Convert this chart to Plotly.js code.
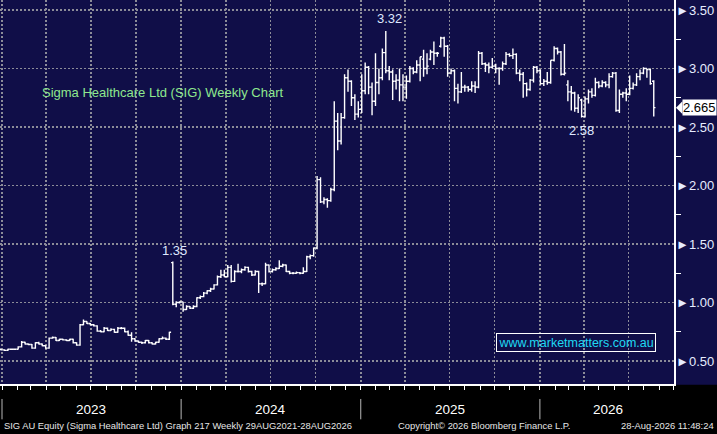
<!DOCTYPE html>
<html><head><meta charset="utf-8">
<script src="https://cdn.plot.ly/plotly-3.0.1.min.js"></script>
<style>html,body{margin:0;padding:0;background:#100e48;}#chart{width:717px;height:434px;}</style>
</head><body><div id="chart"></div>
<script>
// Weekly bars, first week ending 2022-12-30
const firstWeek = '2022-12-30';
const open = [
0.60,0.595,0.59,0.60,0.60,0.60,0.62,0.66,0.645,0.64, 0.61,0.655,0.645,0.63,0.61,0.695,0.70,0.675,0.685,0.68,
0.675,0.685,0.655,0.635,0.81,0.837,0.82,0.81,0.80,0.755, 0.75,0.78,0.76,0.77,0.745,0.78,0.78,0.75,0.72,0.69,
0.67,0.66,0.655,0.675,0.655,0.645,0.66,0.69,0.695,0.685,
1.34,0.985,1.00,1.005,0.94,0.965,0.95,0.965,1.04,1.05,
1.08,1.10,1.115,1.15,1.22,1.235,1.22,1.30,1.18,1.265,
1.265,1.28,1.30,1.265,1.235,1.265,1.16,1.16,1.32,1.265,
1.28,1.29,1.31,1.32,1.265,1.25,1.25,1.255,1.25,1.265,
1.39,1.40,1.465,2.05,1.86,1.88,1.87,1.965,2.55,2.38,
2.58,2.92,2.89,2.75,2.61,2.65,2.81,3.01,2.84,2.72,
2.88,2.92,3.135,2.98,2.97,2.89,2.90,2.86,2.84,2.89,
3.00,2.97,3.03,3.08,3.00,3.08,3.14,3.13,3.19,3.26,
3.19,2.96,2.98,2.83,2.80,2.84,2.84,2.82,2.85,2.84,
3.13,3.04,3.03,3.01,3.02,3.00,3.00,3.04,3.12,3.11,
3.12,2.96,2.95,2.87,2.82,2.90,3.01,2.98,2.87,2.89,
2.88,3.07,3.17,3.14,2.95,2.86,2.80,2.79,2.66,2.73,
2.59,2.74,2.80,2.77,2.88,2.85,2.88,2.86,2.93,2.96,
2.64,2.78,2.79,2.78,2.83,2.86,2.93,2.96,3.00,2.99,2.89];
const high = [
0.605,0.60,0.605,0.605,0.605,0.625,0.67,0.665,0.65,0.645, 0.66,0.665,0.65,0.635,0.70,0.71,0.705,0.69,0.69,0.685,
0.69,0.69,0.66,0.815,0.855,0.84,0.825,0.815,0.805,0.765, 0.79,0.785,0.78,0.775,0.79,0.79,0.785,0.76,0.745,0.695,
0.675,0.665,0.68,0.68,0.66,0.665,0.695,0.71,0.70,0.75,
1.35,1.01,1.01,1.005,0.975,0.97,0.975,1.045,1.06,1.09,
1.105,1.125,1.155,1.23,1.28,1.28,1.32,1.32,1.275,1.33,
1.29,1.31,1.305,1.27,1.275,1.27,1.17,1.34,1.325,1.29,
1.30,1.36,1.33,1.325,1.27,1.26,1.265,1.26,1.30,1.40,
1.41,1.47,2.08,2.07,1.90,1.89,1.98,2.72,2.62,2.62,
2.95,2.99,2.90,2.78,2.72,2.95,3.05,3.02,2.88,3.13,
3.00,3.17,3.32,3.02,2.99,2.95,3.00,2.95,2.94,3.02,
3.01,3.07,3.10,3.16,3.13,3.16,3.23,3.14,3.27,3.27,
3.20,3.00,2.99,2.87,2.97,2.86,2.85,2.89,2.89,3.15,
3.14,3.05,3.05,3.09,3.04,3.01,3.06,3.14,3.13,3.17,
3.13,2.99,2.97,2.88,2.91,3.02,3.02,2.99,2.91,2.97,
3.07,3.19,3.18,3.15,3.21,2.90,2.85,2.80,2.78,2.74,
2.76,2.82,2.83,2.92,2.89,2.90,2.89,2.96,2.97,2.97,
2.82,2.80,2.83,2.94,2.88,2.96,2.99,3.01,3.00,3.00,2.90];
const low = [
0.59,0.585,0.585,0.595,0.595,0.598,0.615,0.64,0.635,0.605, 0.605,0.64,0.625,0.605,0.605,0.69,0.67,0.67,0.675,0.67,
0.67,0.65,0.63,0.63,0.805,0.815,0.805,0.795,0.75,0.745, 0.745,0.755,0.755,0.74,0.74,0.77,0.745,0.715,0.665,0.665,
0.655,0.645,0.65,0.65,0.64,0.64,0.655,0.685,0.68,0.68,
0.975,0.96,0.99,0.92,0.935,0.945,0.945,0.96,1.03,1.045,
1.07,1.09,1.11,1.145,1.21,1.215,1.215,1.17,1.175,1.255,
1.25,1.27,1.255,1.225,1.23,1.08,1.14,1.155,1.255,1.255,
1.27,1.285,1.30,1.26,1.24,1.24,1.245,1.24,1.245,1.26,
1.37,1.39,1.455,1.85,1.84,1.81,1.86,1.95,2.30,2.35,
2.57,2.80,2.68,2.56,2.58,2.62,2.78,2.78,2.60,2.68,
2.78,2.90,2.96,2.90,2.73,2.82,2.72,2.72,2.74,2.88,
2.95,2.96,2.89,2.93,2.95,3.07,3.03,3.10,3.18,3.10,
2.93,2.95,2.72,2.70,2.79,2.80,2.80,2.80,2.79,2.83,
3.03,2.97,2.96,3.00,2.96,2.86,2.98,3.03,3.10,3.08,
2.95,2.89,2.75,2.76,2.81,2.88,2.96,2.86,2.85,2.86,
2.87,3.06,3.12,2.94,2.94,2.72,2.64,2.63,2.62,2.58,
2.58,2.70,2.75,2.76,2.83,2.84,2.84,2.83,2.92,2.63,
2.62,2.75,2.72,2.77,2.82,2.85,2.90,2.95,2.92,2.86,2.59];
const close = [
0.595,0.59,0.60,0.60,0.60,0.62,0.66,0.645,0.64,0.61, 0.655,0.645,0.63,0.61,0.695,0.70,0.675,0.685,0.68,0.675,
0.685,0.655,0.635,0.81,0.837,0.82,0.81,0.80,0.755,0.75, 0.78,0.76,0.77,0.745,0.78,0.78,0.75,0.72,0.69,0.67,
0.66,0.655,0.675,0.655,0.645,0.66,0.69,0.695,0.685,0.745,
0.985,1.00,1.005,0.94,0.965,0.95,0.965,1.04,1.05,1.08,
1.10,1.115,1.15,1.22,1.235,1.22,1.30,1.18,1.265,1.265,
1.28,1.30,1.265,1.235,1.265,1.16,1.16,1.32,1.265,1.28,
1.29,1.31,1.32,1.265,1.25,1.25,1.255,1.25,1.265,1.39,
1.40,1.465,2.05,1.86,1.88,1.87,1.965,2.55,2.38,2.58,
2.92,2.89,2.75,2.61,2.65,2.81,3.01,2.84,2.72,2.88,
2.92,3.135,2.98,2.97,2.89,2.90,2.86,2.84,2.89,3.00,
2.97,3.03,3.10,3.00,3.02,3.14,3.13,3.13,3.26,3.19,
2.96,2.98,2.83,2.80,2.84,2.84,2.82,2.85,2.84,3.13,
3.04,3.03,3.01,3.02,3.00,3.00,3.04,3.12,3.11,3.12,
2.96,2.95,2.87,2.82,2.90,3.01,2.98,2.87,2.89,2.88,
3.07,3.17,3.14,2.95,2.96,2.80,2.79,2.66,2.75,2.59,
2.74,2.80,2.77,2.88,2.85,2.88,2.86,2.93,2.96,2.64,
2.78,2.79,2.78,2.83,2.86,2.93,2.96,3.00,2.99,2.87,2.665];
const yearLabels = ['2023','2024','2025','2026'];
const yearCentres = ['2023-07-02','2024-07-02','2025-07-02','2026-05-20'];
const yearStarts = ['2023-01-01','2024-01-01','2025-01-01','2026-01-01'];
const chartTitle = 'Sigma Healthcare Ltd (SIG) Weekly Chart';
const footerLeft = 'SIG AU Equity (Sigma Healthcare Ltd) Graph 217 Weekly 29AUG2021-28AUG2026';
const footerMid = 'Copyright\u00a9 2026 Bloomberg Finance L.P.';
const footerRight = '28-Aug-2026 11:48:24';
const watermark = 'www.marketmatters.com.au';

// weekly dates
const dates = [];
const t0 = new Date(firstWeek + 'T00:00:00Z').getTime();
for (let i = 0; i < close.length; i++) {
  dates.push(new Date(t0 + i * 7 * 86400000).toISOString().slice(0, 10));
}
const n = close.length;
const last = close[n - 1];
// label positions
let iMax = 0; for (let i = 0; i < n; i++) if (high[i] > high[iMax]) iMax = i;
let iMin = 130; for (let i = 130; i < n; i++) if (low[i] < low[iMin]) iMin = i;
let iJump = 0; for (let i = 0; i < 60; i++) if (high[i] > high[iJump]) iJump = i;

const NAVY = '#100e48';
const GRID = '#8c8c98';
const sans = 'Liberation Sans, Arial, sans-serif';
const labelFont = {family: sans, size: 13, color: '#dfe8ff'};

const trace = {
  type: 'ohlc', x: dates, open: open, high: high, low: low, close: close,
  increasing: {line: {color: '#ffffff', width: 1.4}},
  decreasing: {line: {color: '#ffffff', width: 1.4}},
  tickwidth: 0.5, hoverinfo: 'skip', showlegend: false
};

const annotations = [
  {xref: 'paper', yref: 'paper', x: 0.0593, y: 0.758, xanchor: 'left', yanchor: 'middle',
   text: chartTitle, showarrow: false, font: {family: sans, size: 13, color: '#8ee88e'}},
  {xref: 'paper', yref: 'paper', x: 0.8546, y: 0.108, xanchor: 'center', yanchor: 'middle',
   text: watermark, showarrow: false, bordercolor: '#ffffff', borderwidth: 1, borderpad: 1.5,
   font: {family: sans, size: 12.5, color: '#1fd8f2'}},
  {x: dates[iMax], y: high[iMax], yanchor: 'bottom', yshift: 3, xshift: 4, text: high[iMax].toFixed(2), showarrow: false, font: labelFont},
  {x: dates[iMin], y: low[iMin], yanchor: 'top', yshift: -3, text: low[iMin].toFixed(2), showarrow: false, font: labelFont},
  {x: dates[iJump], y: high[iJump], yanchor: 'bottom', yshift: 2, xshift: 2, text: high[iJump].toFixed(2), showarrow: false, font: labelFont},
  {xref: 'paper', x: 1, y: last, xanchor: 'left', yanchor: 'middle', xshift: 8, text: last.toFixed(3), showarrow: false,
   bgcolor: '#ffffff', borderpad: 0, font: {family: sans, size: 13, color: '#000000'}},
  {xref: 'paper', yref: 'paper', x: 0.003, y: -0.109, xanchor: 'left', yanchor: 'middle', text: footerLeft, showarrow: false,
   font: {family: sans, size: 9.4, color: '#e6e6e6'}},
  {xref: 'paper', yref: 'paper', x: 0.5875, y: -0.109, xanchor: 'left', yanchor: 'middle', text: footerMid, showarrow: false,
   font: {family: sans, size: 9.4, color: '#e6e6e6'}},
  {xref: 'paper', yref: 'paper', x: 1.0623, y: -0.109, xanchor: 'right', yanchor: 'middle', text: footerRight, showarrow: false,
   font: {family: sans, size: 9.4, color: '#e6e6e6'}}
];
yearLabels.forEach((t, k) => annotations.push({
  x: yearCentres[k], yref: 'paper', y: -0.066, xanchor: 'center', yanchor: 'middle', text: t, showarrow: false,
  font: {family: sans, size: 13.5, color: '#ffffff'}
}));

const shapes = [
  {type: 'rect', xref: 'paper', yref: 'paper', x0: -0.05, x1: 1.1, y0: -0.2, y1: -0.002, fillcolor: '#000000', line: {width: 0}, layer: 'below'},
  // pointer of the last-price label
  {type: 'path', xref: 'paper', yref: 'y',
   path: 'M 1.003 ' + last + ' L 1.0125 ' + (last + 0.055) + ' L 1.0125 ' + (last - 0.055) + ' Z',
   fillcolor: '#ffffff', line: {width: 0}}
];
yearStarts.forEach(d => shapes.push({type: 'line', xref: 'x', yref: 'paper', x0: d, x1: d, y0: -0.039, y1: -0.092,
  line: {color: '#b8b8b8', width: 1}}));

const layout = {
  width: 717, height: 434,
  margin: {l: 0, r: 43, t: 0, b: 50, pad: 0},
  paper_bgcolor: NAVY, plot_bgcolor: NAVY,
  showlegend: false,
  xaxis: {
    type: 'date', range: ['2022-12-27 22:00', '2026-10-01 06:00'],
    showgrid: true, gridcolor: GRID, griddash: '2px,2px', gridwidth: 1.5,
    tick0: '2023-01-01', dtick: 'M3', ticks: 'outside', ticklen: 4, tickcolor: '#ffffff', tickwidth: 1,
    showticklabels: false, showline: true, linecolor: '#ffffff', linewidth: 2, zeroline: false,
    minor: {dtick: 'M1', ticks: 'outside', ticklen: 4, tickcolor: '#ffffff', tickwidth: 1, showgrid: false},
    rangeslider: {visible: false}, fixedrange: true
  },
  yaxis: {
    side: 'right', range: [0.303, 3.585], tick0: 0, dtick: 0.5, tickformat: '.2f',
    showgrid: true, gridcolor: GRID, griddash: '2px,2px', gridwidth: 1.5,
    ticks: '', tickprefix: '\u25BA', ticklabelstandoff: -2,
    tickfont: {family: sans, size: 13, color: '#e6ecff'},
    showline: true, linecolor: '#ffffff', linewidth: 1.5, zeroline: false,
    minor: {dtick: 0.25, ticks: 'outside', ticklen: 5, tickcolor: '#ffffff', tickwidth: 1, showgrid: false},
    fixedrange: true
  },
  annotations: annotations,
  shapes: shapes
};

Plotly.newPlot('chart', [trace], layout, {displayModeBar: false, staticPlot: true});
</script></body></html>
